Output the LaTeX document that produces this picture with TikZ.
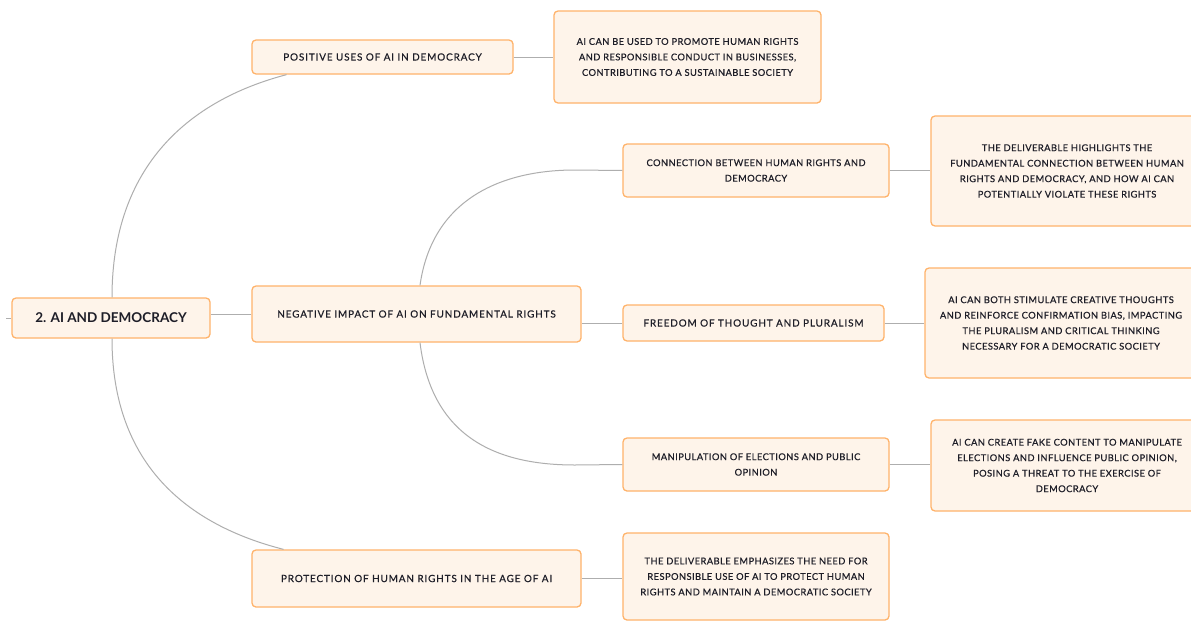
\documentclass[tikz,border=0pt]{standalone}
\usepackage{fontspec}
\setmainfont{Lato}
\definecolor{boxfill}{HTML}{FEF4EA}
\definecolor{boxline}{HTML}{FFB36B}
\definecolor{linkgray}{HTML}{AEAEAE}
\definecolor{txt}{HTML}{1E1E28}
\tikzset{
  box/.style={draw=boxline, fill=boxfill, line width=1.3pt, rounded corners=4pt,
    inner sep=0pt, align=center, text=txt,
    font=\fontsize{9.9}{15.5}\selectfont\addfontfeature{LetterSpace=9,FakeBold=0.6}},
  leaf/.style={box, font=\fontsize{9.3}{15.5}\selectfont\addfontfeature{LetterSpace=5,FakeBold=0.6}},
  link/.style={draw=linkgray, line width=1pt},
}
\begin{document}
\begin{tikzpicture}[x=1pt,y=-1pt]
\useasboundingbox (0,0) rectangle (1191,624);
\fill[white] (0,0) rectangle (1191,624);

\node[box, minimum width=198pt, minimum height=40pt, font=\fontsize{13.5}{15}\selectfont\bfseries] (root) at (111,318) {2. AI AND DEMOCRACY};

\node[box, minimum width=261pt, minimum height=34pt] (pos) at (382.5,57) {POSITIVE USES OF AI IN DEMOCRACY};
\node[leaf, minimum width=267pt, minimum height=92pt] (posleaf) at (687.5,57) {AI CAN BE USED TO PROMOTE HUMAN RIGHTS\\AND RESPONSIBLE CONDUCT IN BUSINESSES,\\CONTRIBUTING TO A SUSTAINABLE SOCIETY};

\node[box, minimum width=329pt, minimum height=56pt] (neg) at (416.5,314) {NEGATIVE IMPACT OF AI ON FUNDAMENTAL RIGHTS};

\node[leaf, minimum width=266pt, minimum height=53pt] (conn) at (756,170.5) {CONNECTION BETWEEN HUMAN RIGHTS AND\\DEMOCRACY};
\node[leaf, minimum width=272pt, minimum height=110pt] (connleaf) at (1067,171) {THE DELIVERABLE HIGHLIGHTS THE\\FUNDAMENTAL CONNECTION BETWEEN HUMAN\\RIGHTS AND DEMOCRACY, AND HOW AI CAN\\POTENTIALLY VIOLATE THESE RIGHTS};

\node[box, minimum width=261pt, minimum height=36pt] (free) at (753.5,323) {FREEDOM OF THOUGHT AND PLURALISM};
\node[leaf, minimum width=272pt, minimum height=110pt] (freeleaf) at (1061,323) {AI CAN BOTH STIMULATE CREATIVE THOUGHTS\\AND REINFORCE CONFIRMATION BIAS, IMPACTING\\THE PLURALISM AND CRITICAL THINKING\\NECESSARY FOR A DEMOCRATIC SOCIETY};

\node[leaf, minimum width=266pt, minimum height=53pt] (manip) at (756,464.5) {MANIPULATION OF ELECTIONS AND PUBLIC\\OPINION};
\node[leaf, minimum width=272pt, minimum height=91pt] (manipleaf) at (1067,465.5) {AI CAN CREATE FAKE CONTENT TO MANIPULATE\\ELECTIONS AND INFLUENCE PUBLIC OPINION,\\POSING A THREAT TO THE EXERCISE OF\\DEMOCRACY};

\node[box, minimum width=329pt, minimum height=57pt] (prot) at (416.5,578.5) {PROTECTION OF HUMAN RIGHTS IN THE AGE OF AI};
\node[leaf, minimum width=266pt, minimum height=87pt] (protleaf) at (756,576.5) {THE DELIVERABLE EMPHASIZES THE NEED FOR\\RESPONSIBLE USE OF AI TO PROTECT HUMAN\\RIGHTS AND MAINTAIN A DEMOCRATIC SOCIETY};

\coordinate (stub) at (6,318);
\draw[link] (stub) -- (root.west);
\draw[link] (neg.west) -- (neg.west -| root.east);
\draw[link] ([xshift=1pt]root.north) .. controls (112,165) and (190,100) .. ([xshift=-96pt]pos.south);
\draw[link] ([xshift=1pt]root.south) .. controls (112,465) and (188,525) .. ([xshift=-133pt]prot.north);
\draw[link] (pos.east) -- (posleaf.west);
\draw[link] ([xshift=3.5pt]neg.north) .. controls (432,200) and (500,170) .. (575,170) -- (conn.west);
\draw[link] ([xshift=3.5pt]neg.south) .. controls (432,440) and (500,465) .. (575,465) -- (manip.west);
\draw[link] (free.west) -- (free.west -| neg.east);
\draw[link] (conn.east) -- (conn.east -| connleaf.west);
\draw[link] (free.east) -- (freeleaf.west);
\draw[link] (manip.east) -- (manip.east -| manipleaf.west);
\draw[link] (prot.east) -- (prot.east -| protleaf.west);
\end{tikzpicture}
\end{document}
